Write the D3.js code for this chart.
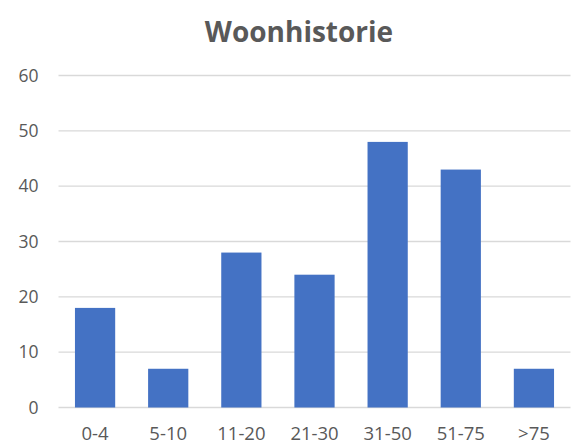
<!DOCTYPE html>
<html>
<head>
<meta charset="utf-8">
<script src="https://cdn.jsdelivr.net/npm/d3@7"></script>
<style>
  body { margin: 0; background: #fff; }
  svg { display: block; }
</style>
</head>
<body>
<div id="chart"></div>
<script>
const categories = ["0-4", "5-10", "11-20", "21-30", "31-50", "51-75", ">75"];
const counts = [18, 7, 28, 24, 48, 43, 7];
const yTicks = [0, 10, 20, 30, 40, 50, 60];
const title = "Woonhistorie";

const width = 571;
const height = 445;
const margin = {top: 75.5, right: 0.5, bottom: 37.5, left: 58.5};

const svg = d3.select("#chart")
  .append("svg")
    .attr("width", width)
    .attr("height", height);

const x = d3.scaleBand()
  .domain(categories)
  .range([margin.left, width - margin.right])
  .paddingInner(0.45)
  .paddingOuter(0.225);

const y = d3.scaleLinear()
  .domain([0, 60])
  .range([height - margin.bottom, margin.top]);

// gridlines
svg.append("g")
  .selectAll("line")
  .data(yTicks).enter()
  .append("line")
    .attr("x1", margin.left)
    .attr("x2", width - margin.right)
    .attr("y1", d => y(d))
    .attr("y2", d => y(d))
    .attr("stroke", "#d9d9d9")
    .attr("stroke-width", 1.3);

// bars
svg.append("g")
  .selectAll("rect")
  .data(counts).enter()
  .append("rect")
    .attr("x", (d, i) => x(categories[i]))
    .attr("width", x.bandwidth())
    .attr("y", d => y(d))
    .attr("height", d => y(0) - y(d))
    .attr("fill", "#4472c4");

// y axis labels
const yAxis = svg.append("g")
  .attr("transform", `translate(${margin.left - 20},0)`)
  .call(d3.axisLeft(y).tickValues(yTicks).tickSize(0).tickPadding(0));
yAxis.select(".domain").remove();
yAxis.selectAll("text")
  .attr("fill", "#595959")
  .style("font-family", "'Open Sans', sans-serif")
  .style("font-size", "17.5px");

// x axis labels, kept just inside the bottom edge
const xAxis = svg.append("g")
  .attr("transform", `translate(0,${440})`)
  .call(d3.axisBottom(x).tickSize(0).tickPadding(0));
xAxis.select(".domain").remove();
xAxis.selectAll("text")
  .attr("dy", 0)
  .attr("fill", "#595959")
  .style("font-family", "'Open Sans', sans-serif")
  .style("font-size", "18.5px");

svg.append("text")
  .attr("x", 299)
  .attr("y", 41.5)
  .attr("text-anchor", "middle")
  .attr("fill", "#595959")
  .style("font-family", "'Open Sans', sans-serif")
  .style("font-weight", "bold")
  .style("font-size", "28px")
  .text(title);
</script>
</body>
</html>
